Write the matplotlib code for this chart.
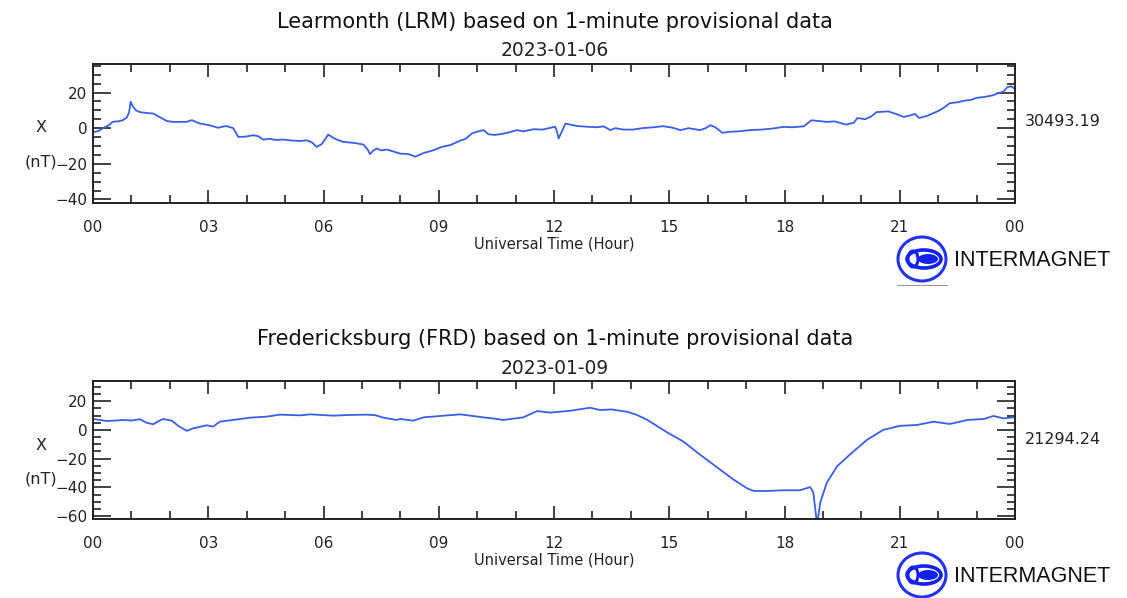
import matplotlib
matplotlib.use('Agg')
import matplotlib.pyplot as plt
from matplotlib.patches import Ellipse
from matplotlib.ticker import MultipleLocator, FixedLocator

# Learmonth (LRM) 2023-01-06, X component (nT) vs hour UT
lrm_hours = [0.0, 0.15, 0.26, 0.4, 0.52, 0.65, 0.78, 0.88, 0.94, 0.98, 1.04, 1.12, 1.22, 1.4, 1.57,
             1.75, 1.92, 2.1, 2.26, 2.45, 2.57, 2.65, 2.78, 3.0, 3.26, 3.4, 3.48, 3.65, 3.72, 3.78,
             3.95, 4.17, 4.3, 4.43, 4.6, 4.75, 4.95, 5.2, 5.4, 5.56, 5.7, 5.82, 5.95, 6.05, 6.12,
             6.3, 6.51, 6.8, 7.04, 7.15, 7.21, 7.3, 7.39, 7.5, 7.65, 7.8, 8.0, 8.2, 8.39, 8.6,
             8.86, 9.08, 9.3, 9.56, 9.7, 9.86, 10.0, 10.16, 10.22, 10.29, 10.45, 10.6, 10.8, 11.04,
             11.2, 11.47, 11.7, 12.03, 12.08, 12.12, 12.18, 12.3, 12.42, 12.6, 12.86, 13.1, 13.3,
             13.46, 13.6, 13.8, 14.06, 14.3, 14.6, 14.84, 15.1, 15.29, 15.5, 15.8, 15.95, 16.07,
             16.2, 16.38, 16.6, 16.8, 17.1, 17.4, 17.7, 17.97, 18.2, 18.5, 18.7, 18.9, 19.1, 19.3,
             19.6, 19.8, 19.9, 20.1, 20.25, 20.4, 20.7, 20.9, 21.1, 21.25, 21.4, 21.5, 21.7, 22.0,
             22.15, 22.3, 22.5, 22.7, 22.85, 23.0, 23.2, 23.4, 23.55, 23.7, 23.8, 23.9, 24.0]
lrm_x = [-2.4, -1.5, 0, 1.5, 3.6, 3.8, 4.5, 6, 9, 14.8, 12, 10, 9, 8.5, 8.2,
         6, 4, 3.5, 3.5, 3.6, 4.5, 3.8, 2.6, 1.8, 0.2, 1.0, 1.1, 0, -2.5, -4.9,
         -4.8, -4, -4.5, -6.4, -6, -6.6, -6.4, -7, -7.2, -6.8, -8, -10.5, -9, -6, -3.6,
         -6, -7.7, -8.3, -9.2, -12, -14.6, -12.5, -11.4, -12.5, -12, -13, -14.3, -14.5, -16, -14,
         -12.4, -10.5, -9.5, -7, -6, -3, -2, -1.1, -2, -3.4, -3.8, -3.4, -2.5, -1.1,
         -1.8, -0.6, -0.8, 0.8, -2, -5.8, -3, 2.6, 2.0, 1.2, 0.8, 0.5, 1.0,
         -1.1, 0, -0.8, -0.8, 0, 0.5, 1.1, 0.2, -1.1, 0, -1.1, 0, 1.7,
         0.5, -2.6, -2, -1.8, -1.1, -0.8, -0.2, 0.7, 0.5, 1, 4.4, 4, 3.5, 3.8,
         2, 3, 5.7, 5, 6.5, 9, 9.4, 8, 6.3, 7, 8, 5.7, 6.8, 9.6,
         11.5, 14, 14.5, 15.5, 15.8, 17, 17.5, 18.3, 19.5, 20.5, 23, 23.5, 22]

# Fredericksburg (FRD) 2023-01-09
frd_hours = [0, 0.35, 0.6, 0.79, 1.0, 1.22, 1.39, 1.57, 1.7, 1.83, 2.05, 2.22, 2.44, 2.61, 2.8,
             2.96, 3.13, 3.3, 3.65, 4.09, 4.52, 4.87, 5.39, 5.65, 6.25, 6.7, 7.13, 7.35, 7.56,
             7.9, 8.0, 8.34, 8.6, 9.1, 9.56, 10.16, 10.4, 10.68, 11.2, 11.56, 11.9, 12.42, 12.94,
             13.2, 13.5, 13.9, 14.15, 14.43, 14.95, 15.36, 15.8, 16.24, 16.67, 17.03, 17.2, 17.55,
             17.97, 18.4, 18.67, 18.75, 18.85, 18.93, 19.1, 19.37, 19.7, 20.15, 20.57, 21.0,
             21.45, 21.88, 22.3, 22.77, 23.2, 23.44, 23.7, 23.96]
frd_x = [7.6, 6.2, 6.5, 6.9, 6.5, 7.4, 5, 3.9, 6, 7.6, 6.4, 2.8, -0.7, 1.1, 2.2,
         3.2, 2.3, 5.7, 6.9, 8.5, 9.2, 10.6, 10.1, 10.8, 9.9, 10.4, 10.6, 10.2, 8.5,
         6.9, 7.6, 6.4, 8.7, 9.8, 10.8, 8.7, 8.0, 6.9, 8.7, 13.1, 12, 13.3, 15.4,
         13.8, 14.2, 12.6, 10.5, 6.9, -1.8, -8, -17.2, -26, -34.5, -40.7, -42.5, -42.5,
         -42, -42, -39.8, -43.7, -66, -50.6, -36.8, -25.3, -17.2, -6.9, 0, 2.8,
         3.4, 5.7, 4.1, 6.9, 7.6, 9.7, 8, 8.7]

hour_ticks = [0, 3, 6, 9, 12, 15, 18, 21, 24]
hour_labels = ['00', '03', '06', '09', '12', '15', '18', '21', '00']

panels = [
    dict(hours=lrm_hours, vals=lrm_x, ylim=(-42, 36), yticks=[-40, -20, 0, 20],
         title='Learmonth (LRM) based on 1-minute provisional data', date='2023-01-06',
         base='30493.19', rect=(64, 203)),
    dict(hours=frd_hours, vals=frd_x, ylim=(-62, 34), yticks=[-60, -40, -20, 0, 20],
         title='Fredericksburg (FRD) based on 1-minute provisional data', date='2023-01-09',
         base='21294.24', rect=(381, 519)),
]

W, H = 1127, 598
fig = plt.figure(figsize=(W / 100, H / 100), dpi=100)
ink = '#222222'
line_col = '#3b5ee6'

# overlay in pixel coordinates for free text and logos
over = fig.add_axes([0, 0, 1, 1], zorder=5)
over.set_xlim(0, W)
over.set_ylim(H, 0)
over.axis('off')


def draw_logo(ax, cx, cy):
    ax.add_patch(Ellipse((cx, cy), 48, 44, fill=False, ec='#2233ee', lw=2.2))
    ax.add_patch(Ellipse((cx + 2, cy), 34, 18, fill=False, ec='#1122ee', lw=2.6))
    ax.add_patch(Ellipse((cx + 6, cy), 20, 10, fc='#1122ee', ec='none'))
    ax.add_patch(Ellipse((cx - 9, cy), 10, 16, fill=False, ec='#1122ee', lw=2.2))
    ax.plot([cx - 25, cx + 25], [cy + 26, cy + 26], color='#999999', lw=0.8)
    ax.text(cx + 32, cy + 1, 'INTERMAGNET', ha='left', va='center', fontsize=15.5,
            family='Liberation Sans', color='#111111')


for p in panels:
    top, bot = p['rect']
    ax = fig.add_axes([93 / W, 1 - bot / H, (1015 - 93) / W, (bot - top) / H])
    ax.plot(p['hours'], p['vals'], color=line_col, lw=1.3)
    ax.set_xlim(0, 24)
    ax.set_ylim(*p['ylim'])
    ax.xaxis.set_major_locator(FixedLocator(hour_ticks))
    ax.xaxis.set_minor_locator(MultipleLocator(1))
    ax.yaxis.set_major_locator(FixedLocator(p['yticks']))
    ax.yaxis.set_minor_locator(MultipleLocator(5))
    ax.set_xticklabels(hour_labels)
    ax.tick_params(which='both', direction='in', top=True, right=True, color=ink,
                   labelcolor=ink, labelsize=11, width=1.2)
    ax.tick_params(axis='x', which='major', length=9.5, pad=12)
    ax.tick_params(axis='x', which='minor', length=5.5)
    ax.tick_params(axis='y', which='major', length=13, pad=4)
    ax.tick_params(axis='y', which='minor', length=6)
    for s in ax.spines.values():
        s.set_color(ink)
        s.set_linewidth(1.4)
    ax.set_xlabel('Universal Time (Hour)', fontsize=10.5, color=ink, labelpad=1)

    over.text(555, top - 42, p['title'], ha='center', va='center', fontsize=15, color='#111111')
    over.text(555, top - 13, p['date'], ha='center', va='center', fontsize=13.5, color=ink)
    over.text(41, top + 64, 'X', ha='center', va='center', fontsize=11.5, color=ink)
    over.text(41, top + 98, '(nT)', ha='center', va='center', fontsize=11.5, color=ink)
    over.text(1025, top + 58, p['base'], ha='left', va='center', fontsize=11.5, color=ink)
    draw_logo(over, 922, bot + 56)

fig.savefig('out.png', dpi=100)
